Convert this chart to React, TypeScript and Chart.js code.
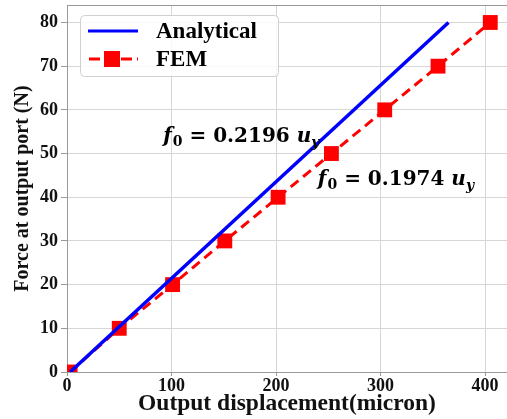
import React, { useEffect, useRef } from 'react';
import { Chart, registerables } from 'chart.js';

Chart.register(...registerables);

const analyticalX = [3, 365];
const analyticalY = [0, 80];
const femX = [3, 50, 101, 151, 202, 253, 304, 355, 405];
const femY = [0, 10, 20, 30, 40, 50, 60, 70, 80];
const xTickValues = [0, 100, 200, 300, 400];
const yTickValues = [0, 10, 20, 30, 40, 50, 60, 70, 80];
const seriesNames = ['Analytical', 'FEM'];
const fitCoefficients = ['0.2196', '0.1974'];
const xTitle = 'Output displacement(micron)';
const yTitle = 'Force at output port (N)';

const SERIF = '"Liberation Serif", "Times New Roman", serif';
const MATH = '"DejaVu Serif", serif';

function drawEquation(ctx: CanvasRenderingContext2D, x: number, y: number, coef: string) {
  let cx = x;
  const big = 20;
  const small = 14;
  const put = (t: string, font: string, dy = 0) => {
    ctx.font = font;
    ctx.fillText(t, cx, y + dy);
    cx += ctx.measureText(t).width;
  };
  ctx.fillStyle = '#000';
  ctx.textBaseline = 'alphabetic';
  ctx.textAlign = 'left';
  put('f', `italic bold ${big}px ${MATH}`);
  cx += 1;
  put('0', `bold ${small}px ${MATH}`, 4);
  put(' = ' + coef + ' ', `bold ${big}px ${MATH}`);
  put('u', `italic bold ${big}px ${MATH}`);
  put('y', `italic bold ${small}px ${MATH}`, 5);
}

const overlayPlugin = {
  id: 'overlay',
  afterDraw(chart: any) {
    const { ctx, chartArea, scales } = chart;
    ctx.save();
    // frame
    ctx.strokeStyle = '#9a9a9a';
    ctx.lineWidth = 1;
    ctx.beginPath();
    ctx.moveTo(chartArea.left, chartArea.top + 0.5);
    ctx.lineTo(chartArea.right, chartArea.top + 0.5);
    ctx.stroke();

    // equations
    drawEquation(ctx, scales.x.getPixelForValue(92), scales.y.getPixelForValue(52.6), fitCoefficients[0]);
    drawEquation(ctx, scales.x.getPixelForValue(240), scales.y.getPixelForValue(42.8), fitCoefficients[1]);

    // legend
    const bx = 80, by = 15, bw = 198, bh = 61;
    ctx.beginPath();
    ctx.roundRect(bx + 0.5, by + 0.5, bw, bh, 4);
    ctx.fillStyle = 'rgba(255,255,255,0.85)';
    ctx.fill();
    ctx.strokeStyle = '#d0d0d0';
    ctx.stroke();

    const y1 = 31, y2 = 59;
    ctx.strokeStyle = '#0000ff';
    ctx.lineWidth = 3;
    ctx.setLineDash([]);
    ctx.beginPath();
    ctx.moveTo(88, y1);
    ctx.lineTo(138, y1);
    ctx.stroke();

    ctx.strokeStyle = '#ff0000';
    ctx.setLineDash([11, 5]);
    ctx.beginPath();
    ctx.moveTo(89, y2);
    ctx.lineTo(138, y2);
    ctx.stroke();
    ctx.setLineDash([]);
    ctx.fillStyle = '#ff0000';
    ctx.fillRect(104, y2 - 8, 16, 16);

    ctx.fillStyle = '#000';
    ctx.font = `bold 23px ${SERIF}`;
    ctx.textBaseline = 'middle';
    ctx.textAlign = 'left';
    ctx.fillText(seriesNames[0], 156, y1 + 1);
    ctx.fillText(seriesNames[1], 156, y2 + 1);
    ctx.restore();
  },
};

export default function App() {
  const ref = useRef<HTMLCanvasElement>(null);
  useEffect(() => {
    if (!ref.current) return;
    const chart = new Chart(ref.current, {
      type: 'scatter',
      data: {
        datasets: [
          {
            label: seriesNames[0],
            data: analyticalX.map((x, i) => ({ x, y: analyticalY[i] })),
            showLine: true,
            borderColor: '#0000ff',
            backgroundColor: '#0000ff',
            borderWidth: 3.5,
            pointRadius: 0,
          },
          {
            label: seriesNames[1],
            data: femX.map((x, i) => ({ x, y: femY[i] })),
            showLine: true,
            borderColor: '#ff0000',
            backgroundColor: '#ff0000',
            borderWidth: 3,
            borderDash: [10, 6],
            pointStyle: 'rect',
            pointRadius: 10.5,
            pointBorderWidth: 0,
          },
        ],
      },
      options: {
        animation: false,
        responsive: false,
        devicePixelRatio: 1,
        layout: { autoPadding: false, padding: { top: 5, right: 0, left: 0, bottom: 0 } },
        plugins: { legend: { display: false }, tooltip: { enabled: false } },
        scales: {
          x: {
            type: 'linear',
            min: 0,
            max: 421,
            afterFit: (s: any) => { s.height = 47; s.paddingLeft = 0; s.paddingRight = 0; s.paddingTop = 0; s.paddingBottom = 0; },
            afterBuildTicks: (s: any) => { s.ticks = xTickValues.map((v) => ({ value: v })); },
            ticks: { font: { family: SERIF, size: 18, weight: 'bold' }, color: '#111', padding: 0, maxRotation: 0 },
            grid: { color: '#d6d6d6', tickLength: 4, tickColor: '#999' },
            border: { color: '#999', width: 1 },
            title: { display: true, text: xTitle, font: { family: SERIF, size: 23.5, weight: 'bold' }, color: '#111', padding: { top: 0, bottom: 1 } },
          },
          y: {
            type: 'linear',
            min: 0,
            max: 84,
            afterFit: (s: any) => { s.width = 67; s.paddingLeft = 0; s.paddingRight = 0; s.paddingTop = 0; s.paddingBottom = 0; },
            afterBuildTicks: (s: any) => { s.ticks = yTickValues.map((v) => ({ value: v })); },
            ticks: { font: { family: SERIF, size: 18, weight: 'bold' }, color: '#111', padding: 3 },
            grid: { color: '#d6d6d6', tickLength: 6, tickColor: '#999' },
            border: { color: '#999', width: 1 },
            title: { display: true, text: yTitle, font: { family: SERIF, size: 20, weight: 'bold' }, color: '#111', padding: { top: 11, bottom: 0 } },
          },
        },
      },
      plugins: [overlayPlugin],
    });
    return () => chart.destroy();
  }, []);
  return (
    <div style={{ position: 'fixed', left: 0, top: 0, width: 507, height: 419, background: '#fff' }}>
      <canvas ref={ref} width={507} height={419} />
    </div>
  );
}
